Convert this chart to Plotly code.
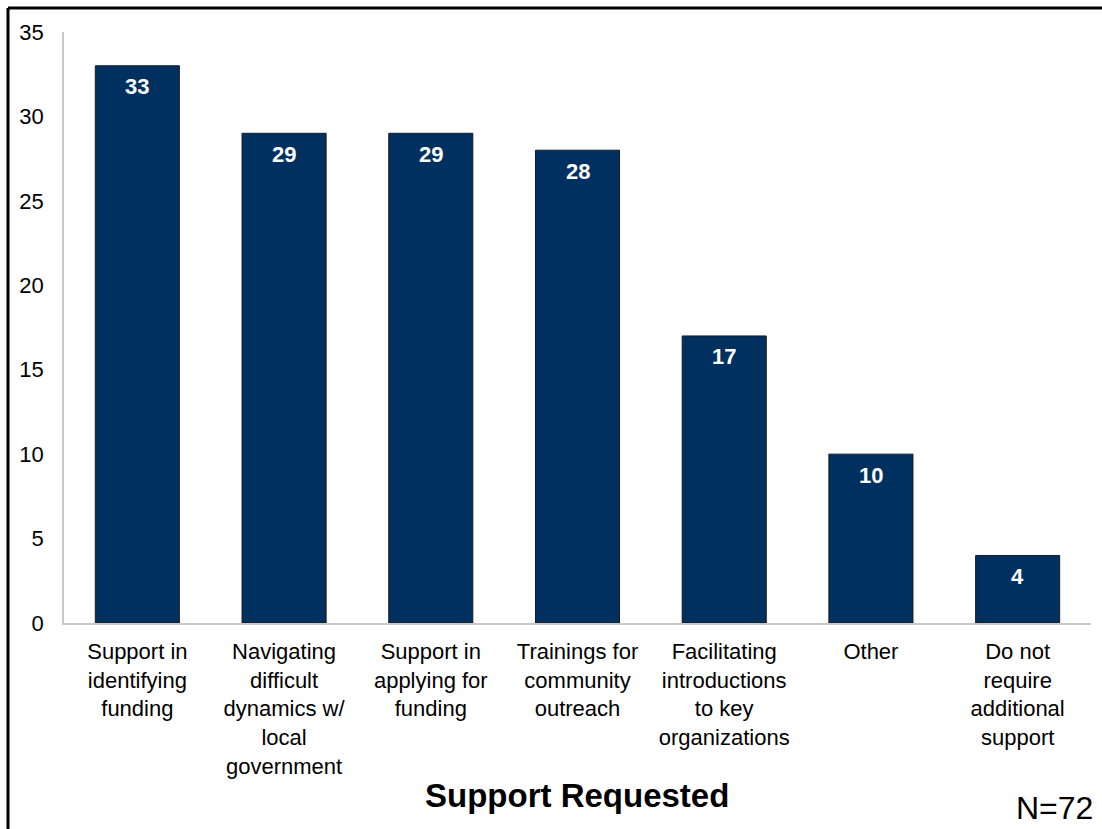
import plotly.graph_objects as go

categories = [
    "Support in<br>identifying<br>funding",
    "Navigating<br>difficult<br>dynamics w/<br>local<br>government",
    "Support in<br>applying for<br>funding",
    "Trainings for<br>community<br>outreach",
    "Facilitating<br>introductions<br>to key<br>organizations",
    "Other",
    "Do not<br>require<br>additional<br>support",
]
values = [33, 29, 29, 28, 17, 10, 4]
y_ticks = [0, 5, 10, 15, 20, 25, 30, 35]

W, H = 1102, 829
ML, MR, MT, MB = 64, 11, 32, 206

fig = go.Figure(go.Bar(
    x=categories, y=values,
    marker=dict(color="#003060", line=dict(color="#1a1a1a", width=1)),
    textposition="none",
    cliponaxis=False,
))

pw = W - ML - MR
ph = H - MT - MB

def px_x(p):
    return (p - ML) / pw

def px_y(p):
    return (H - MB - p) / ph

value_labels = [
    dict(text=f"<b>{v}</b>", x=c, y=v, xref="x", yref="y",
         yanchor="middle", xanchor="center", yshift=-21, showarrow=False,
         font=dict(size=22, color="white"))
    for c, v in zip(categories, values)
]

fig.update_layout(
    width=W, height=H,
    margin=dict(l=ML, r=MR, t=MT, b=MB),
    paper_bgcolor="white", plot_bgcolor="white",
    bargap=0.427,
    showlegend=False,
    font=dict(family="Liberation Sans, Arial", color="black"),
    xaxis=dict(
        tickfont=dict(size=22, color="black"),
        showline=True, linecolor="#c8c8c8", linewidth=1.5,
        showgrid=False, ticks="", tickangle=0,
        ticklabelstandoff=8,
    ),
    yaxis=dict(
        range=[0, 35], tickvals=y_ticks,
        tickfont=dict(size=22, color="black"),
        showline=True, linecolor="#c8c8c8", linewidth=1.5,
        showgrid=False, ticks="outside", ticklen=14, tickcolor="rgba(0,0,0,0)",
        zeroline=False,
    ),
    annotations=value_labels + [
        dict(text="<b>Support Requested</b>", xref="paper", yref="paper",
             x=px_x(577), y=px_y(795), xanchor="center", yanchor="middle",
             showarrow=False, font=dict(size=33, color="black")),
        dict(text="N=72", xref="paper", yref="paper",
             x=px_x(1095), y=px_y(808), xanchor="right", yanchor="middle",
             showarrow=False, font=dict(size=32, color="black")),
    ],
    shapes=[
        dict(type="line", xref="paper", yref="paper",
             x0=px_x(8), x1=px_x(1102), y0=px_y(8), y1=px_y(8),
             line=dict(color="black", width=3)),
        dict(type="line", xref="paper", yref="paper",
             x0=px_x(8), x1=px_x(8), y0=px_y(8), y1=px_y(829),
             line=dict(color="black", width=3)),
    ],
)

fig.write_html("out.html")
